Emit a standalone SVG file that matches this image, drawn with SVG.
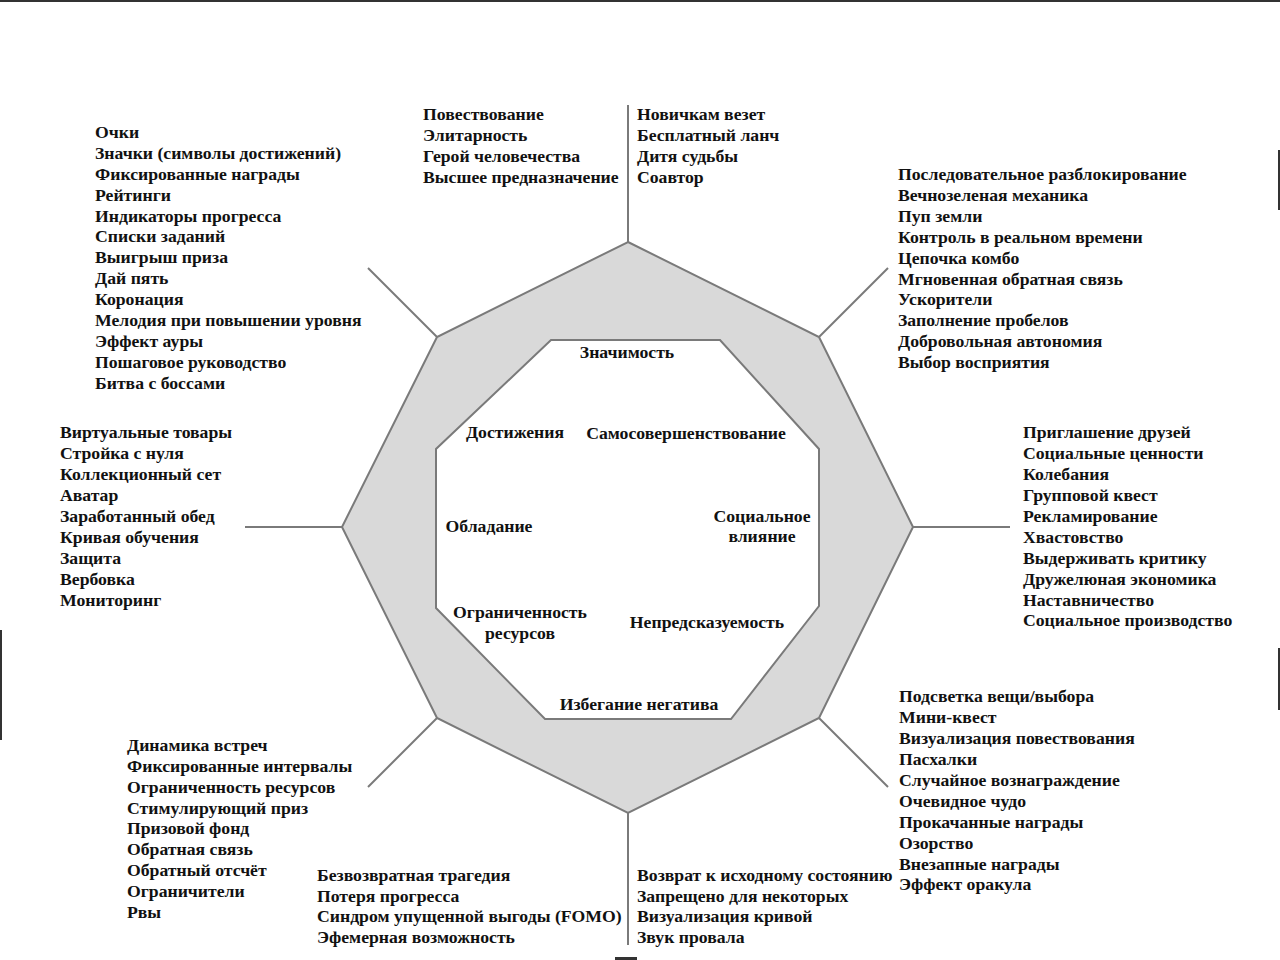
<svg xmlns="http://www.w3.org/2000/svg" width="1280" height="960" viewBox="0 0 1280 960">
<style>
.t{font-family:"Liberation Serif","Times New Roman",serif;font-weight:bold;font-size:17.7px;fill:#111}
.c{text-anchor:middle}
.ln{stroke:#7a7a7a;stroke-width:2;fill:none}
.edge{stroke:#333;stroke-width:2}
</style>
<rect width="1280" height="960" fill="#fff"/>
<g id="scan-edges">
<line class="edge" x1="0" y1="1" x2="1280" y2="1"/>
<line class="edge" x1="1279" y1="150" x2="1279" y2="210"/>
<line class="edge" x1="1279" y1="648" x2="1279" y2="710"/>
<line class="edge" x1="1" y1="630" x2="1" y2="740"/>
<rect x="615" y="957" width="22" height="3" fill="#333"/>
</g>
<g id="connectors">
<line class="ln" x1="628" y1="242" x2="628" y2="105"/>
<line class="ln" x1="628" y1="813" x2="628" y2="945"/>
<line class="ln" x1="437" y1="337" x2="368" y2="268"/>
<line class="ln" x1="819" y1="337" x2="888" y2="268"/>
<line class="ln" x1="437" y1="718" x2="368" y2="787"/>
<line class="ln" x1="819" y1="718" x2="888" y2="787"/>
<line class="ln" x1="342" y1="527" x2="245" y2="527"/>
<line class="ln" x1="913" y1="527" x2="1010" y2="527"/>
</g>
<g id="octagon">
<path fill="#d9d9d9" fill-rule="evenodd" stroke="#7a7a7a" stroke-width="2" d="M628,242 L819,337 L913,527 L819,718 L628,813 L437,718 L342,527 L437,337 Z M551,340 L720,340 L819,449 L819,606 L731,719 L545,719 L436,608 L436,449 Z"/>
</g>
<g id="core-drives">
<text class="t c" x="627" y="358">Значимость</text>
<text class="t c" x="515" y="438">Достижения</text>
<text class="t c" x="686" y="439">Самосовершенствование</text>
<text class="t c" x="489" y="532">Обладание</text>
<text class="t c" x="762" y="522">Социальное</text>
<text class="t c" x="762" y="542">влияние</text>
<text class="t c" x="520" y="618">Ограниченность</text>
<text class="t c" x="520" y="639">ресурсов</text>
<text class="t c" x="707" y="628">Непредсказуемость</text>
<text class="t c" x="639" y="710">Избегание негатива</text>
</g>
<g id="list-top-left">
<text class="t" x="95" y="138">Очки</text>
<text class="t" x="95" y="159">Значки (символы достижений)</text>
<text class="t" x="95" y="180">Фиксированные награды</text>
<text class="t" x="95" y="201">Рейтинги</text>
<text class="t" x="95" y="222">Индикаторы прогресса</text>
<text class="t" x="95" y="242">Списки заданий</text>
<text class="t" x="95" y="263">Выигрыш приза</text>
<text class="t" x="95" y="284">Дай пять</text>
<text class="t" x="95" y="305">Коронация</text>
<text class="t" x="95" y="326">Мелодия при повышении уровня</text>
<text class="t" x="95" y="347">Эффект ауры</text>
<text class="t" x="95" y="368">Пошаговое руководство</text>
<text class="t" x="95" y="389">Битва с боссами</text>
</g>
<g id="list-top-center-left">
<text class="t" x="423" y="120">Повествование</text>
<text class="t" x="423" y="141">Элитарность</text>
<text class="t" x="423" y="162">Герой человечества</text>
<text class="t" x="423" y="183">Высшее предназначение</text>
</g>
<g id="list-top-center-right">
<text class="t" x="637" y="120">Новичкам везет</text>
<text class="t" x="637" y="141">Бесплатный ланч</text>
<text class="t" x="637" y="162">Дитя судьбы</text>
<text class="t" x="637" y="183">Соавтор</text>
</g>
<g id="list-top-right">
<text class="t" x="898" y="180">Последовательное разблокирование</text>
<text class="t" x="898" y="201">Вечнозеленая механика</text>
<text class="t" x="898" y="222">Пуп земли</text>
<text class="t" x="898" y="243">Контроль в реальном времени</text>
<text class="t" x="898" y="264">Цепочка комбо</text>
<text class="t" x="898" y="285">Мгновенная обратная связь</text>
<text class="t" x="898" y="305">Ускорители</text>
<text class="t" x="898" y="326">Заполнение пробелов</text>
<text class="t" x="898" y="347">Добровольная автономия</text>
<text class="t" x="898" y="368">Выбор восприятия</text>
</g>
<g id="list-right">
<text class="t" x="1023" y="438">Приглашение друзей</text>
<text class="t" x="1023" y="459">Социальные ценности</text>
<text class="t" x="1023" y="480">Колебания</text>
<text class="t" x="1023" y="501">Групповой квест</text>
<text class="t" x="1023" y="522">Рекламирование</text>
<text class="t" x="1023" y="543">Хвастовство</text>
<text class="t" x="1023" y="564">Выдерживать критику</text>
<text class="t" x="1023" y="585">Дружелюная экономика</text>
<text class="t" x="1023" y="606">Наставничество</text>
<text class="t" x="1023" y="626">Социальное производство</text>
</g>
<g id="list-left">
<text class="t" x="60" y="438">Виртуальные товары</text>
<text class="t" x="60" y="459">Стройка с нуля</text>
<text class="t" x="60" y="480">Коллекционный сет</text>
<text class="t" x="60" y="501">Аватар</text>
<text class="t" x="60" y="522">Заработанный обед</text>
<text class="t" x="60" y="543">Кривая обучения</text>
<text class="t" x="60" y="564">Защита</text>
<text class="t" x="60" y="585">Вербовка</text>
<text class="t" x="60" y="606">Мониторинг</text>
</g>
<g id="list-bottom-right">
<text class="t" x="899" y="702">Подсветка вещи/выбора</text>
<text class="t" x="899" y="723">Мини-квест</text>
<text class="t" x="899" y="744">Визуализация повествования</text>
<text class="t" x="899" y="765">Пасхалки</text>
<text class="t" x="899" y="786">Случайное вознаграждение</text>
<text class="t" x="899" y="807">Очевидное чудо</text>
<text class="t" x="899" y="828">Прокачанные награды</text>
<text class="t" x="899" y="849">Озорство</text>
<text class="t" x="899" y="870">Внезапные награды</text>
<text class="t" x="899" y="890">Эффект оракула</text>
</g>
<g id="list-bottom-left">
<text class="t" x="127" y="751">Динамика встреч</text>
<text class="t" x="127" y="772">Фиксированные интервалы</text>
<text class="t" x="127" y="793">Ограниченность ресурсов</text>
<text class="t" x="127" y="814">Стимулирующий приз</text>
<text class="t" x="127" y="834">Призовой фонд</text>
<text class="t" x="127" y="855">Обратная связь</text>
<text class="t" x="127" y="876">Обратный отсчёт</text>
<text class="t" x="127" y="897">Ограничители</text>
<text class="t" x="127" y="918">Рвы</text>
</g>
<g id="list-bottom-center-left">
<text class="t" x="317" y="881">Безвозвратная трагедия</text>
<text class="t" x="317" y="902">Потеря прогресса</text>
<text class="t" x="317" y="922">Синдром упущенной выгоды (FOMO)</text>
<text class="t" x="317" y="943">Эфемерная возможность</text>
</g>
<g id="list-bottom-center-right">
<text class="t" x="637" y="881">Возврат к исходному состоянию</text>
<text class="t" x="637" y="902">Запрещено для некоторых</text>
<text class="t" x="637" y="922">Визуализация кривой</text>
<text class="t" x="637" y="943">Звук провала</text>
</g>
</svg>
